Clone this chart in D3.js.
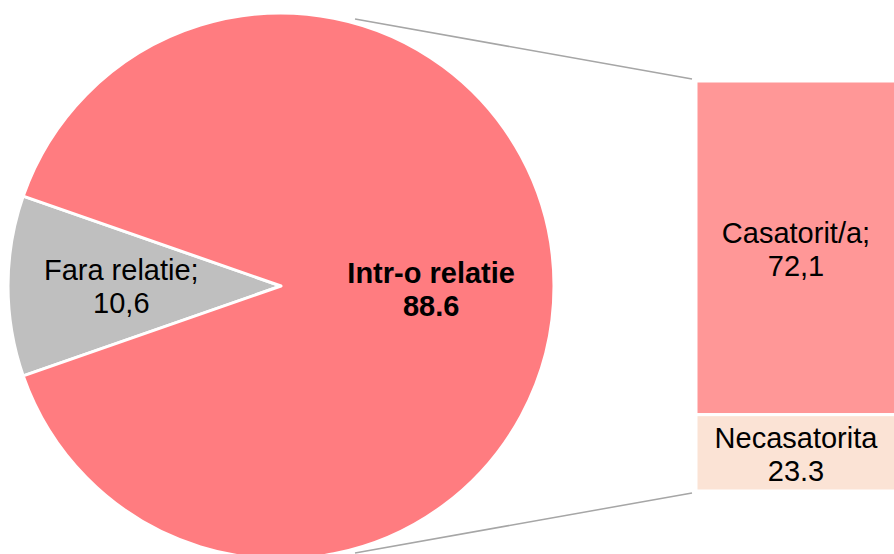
<!DOCTYPE html>
<html>
<head>
<meta charset="utf-8">
<script src="https://cdn.jsdelivr.net/npm/d3@7/dist/d3.min.js"></script>
<style>
  html, body { margin: 0; padding: 0; background: #fff; }
  svg text { font-family: "Liberation Sans", Arial, sans-serif; fill: #000; }
</style>
</head>
<body>
<div class="bar-of-pie"></div>
<script>
// pie slices (the "Intr-o relatie" slice is broken out into the bar)
var pieNames = ["Fara relatie;", "Intr-o relatie"];
var pieValues = [10.6, 88.6];
var pieLabels = ["10,6", "88.6"];
var pieColors = ["#bfbfbf", "#ff7c80"];

// bar segments, top to bottom
var barNames = ["Casatorit/a;", "Necasatorita"];
var barValues = [72.1, 16.5];
var barLabels = ["72,1", "23.3"];
var barColors = ["#ff9797", "#fbe3d5"];

var width = 894, height = 554;
var cx = 281, cy = 286, radius = 273;
var barX = 696, barW = 200, barTop = 81, barBottom = 491;
var fontSize = 29;
var lineGap = 33;

var svg = d3.select(".bar-of-pie").append("svg")
  .attr("width", width)
  .attr("height", height)
  .attr("viewBox", "0 0 " + width + " " + height);

// pie: the small slice is centred on the left (9 o'clock)
var total = d3.sum(pieValues);
var smallAngle = pieValues[0] / total * 2 * Math.PI;
var start = 1.5 * Math.PI - smallAngle / 2;

var pie = d3.pie()
  .value(function (d) { return d; })
  .sort(null)
  .startAngle(start)
  .endAngle(start + 2 * Math.PI);

var arc = d3.arc().innerRadius(0).outerRadius(radius);
var arcs = pie(pieValues);

var g = svg.append("g").attr("transform", "translate(" + cx + "," + cy + ")");

g.selectAll("path")
  .data(arcs)
  .enter()
  .append("path")
  .attr("d", arc)
  .attr("fill", function (d, i) { return pieColors[i]; })
  .attr("stroke", "#fff")
  .attr("stroke-width", 3)
  .attr("stroke-linejoin", "round");

// pie labels
var labelPos = [
  { r: 0.585, dy: -6, bold: false },
  { r: 0.55, dy: -3, bold: true }
];
arcs.forEach(function (d, i) {
  var mid = (d.startAngle + d.endAngle) / 2;
  var lx = Math.sin(mid) * radius * labelPos[i].r;
  var ly = -Math.cos(mid) * radius * labelPos[i].r + labelPos[i].dy;
  var t = g.append("text")
    .attr("text-anchor", "middle")
    .attr("font-size", fontSize)
    .attr("font-weight", labelPos[i].bold ? "bold" : "normal");
  t.append("tspan").attr("x", lx).attr("y", ly).text(pieNames[i]);
  t.append("tspan").attr("x", lx).attr("y", ly + lineGap).text(pieLabels[i]);
});

// bar
var y = d3.scaleLinear()
  .domain([0, d3.sum(barValues)])
  .range([barTop, barBottom]);

var stack = [];
var acc = 0;
barValues.forEach(function (v, i) {
  stack.push({ y0: acc, y1: acc + v, i: i });
  acc += v;
});

svg.selectAll("rect.seg")
  .data(stack)
  .enter()
  .append("rect")
  .attr("class", "seg")
  .attr("x", barX)
  .attr("y", function (d) { return y(d.y0); })
  .attr("width", barW)
  .attr("height", function (d) { return y(d.y1) - y(d.y0); })
  .attr("fill", function (d) { return barColors[d.i]; })
  .attr("stroke", "#fff")
  .attr("stroke-width", 3);

stack.forEach(function (d) {
  var my = (y(d.y0) + y(d.y1)) / 2 - 5;
  var t = svg.append("text")
    .attr("text-anchor", "middle")
    .attr("font-size", fontSize);
  t.append("tspan").attr("x", barX + barW / 2).attr("y", my).text(barNames[d.i]);
  t.append("tspan").attr("x", barX + barW / 2).attr("y", my + lineGap).text(barLabels[d.i]);
});

// connector lines from the pie rim to the bar corners
var connAngle = 15.5 * Math.PI / 180;
var rr = radius + 4;
[
  [Math.sin(connAngle), -Math.cos(connAngle), barX - 4, barTop - 2],
  [Math.sin(connAngle), Math.cos(connAngle), barX - 4, barBottom + 2]
].forEach(function (c) {
  svg.append("line")
    .attr("x1", cx + rr * c[0]).attr("y1", cy + rr * c[1])
    .attr("x2", c[2]).attr("y2", c[3])
    .attr("stroke", "#a6a6a6")
    .attr("stroke-width", 1.5);
});
</script>
</body>
</html>
